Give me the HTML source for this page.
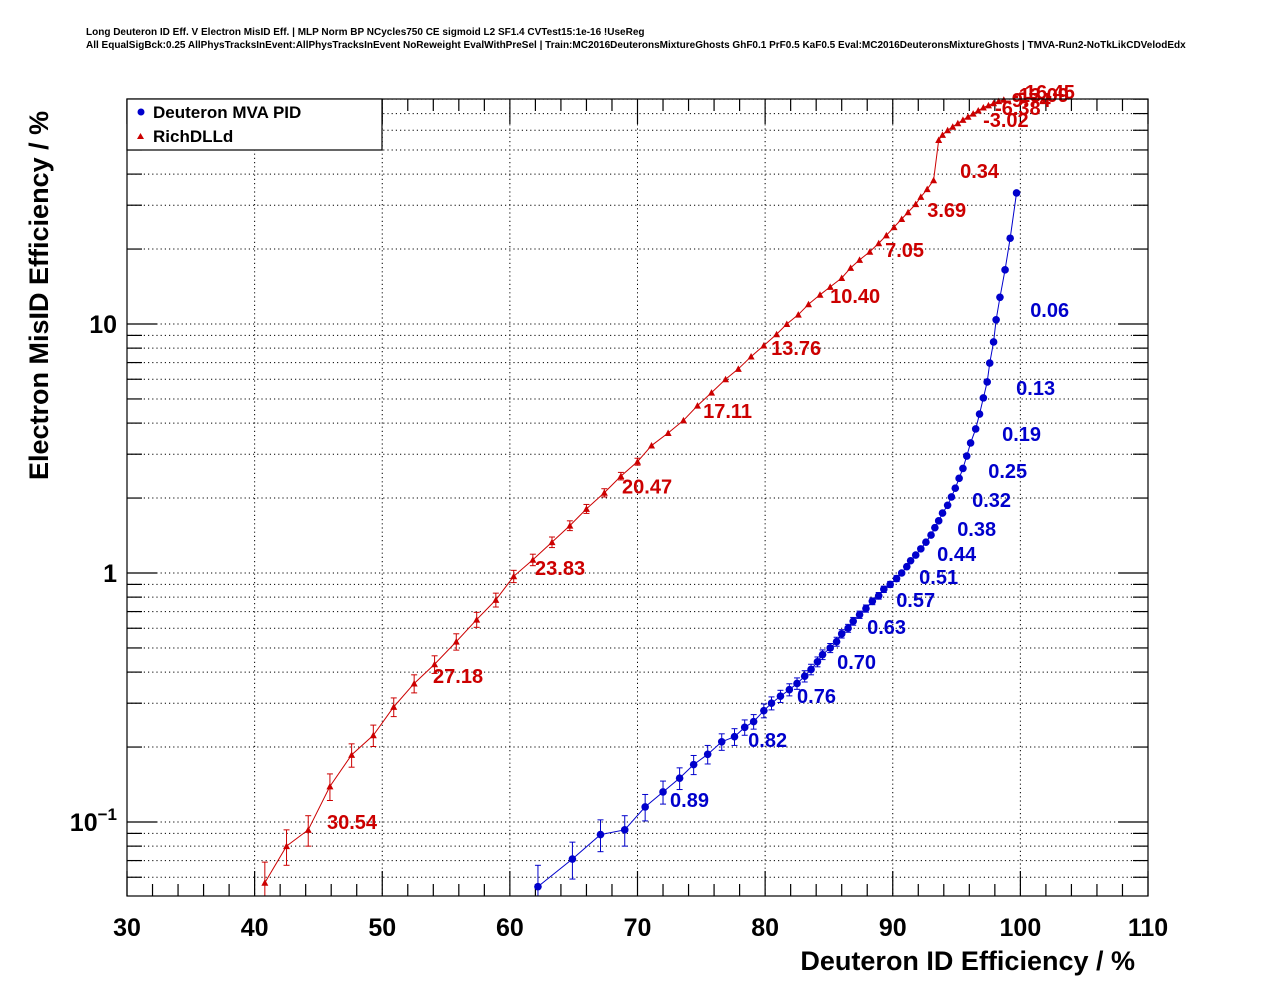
<!DOCTYPE html>
<html><head><meta charset="utf-8">
<style>
html,body{margin:0;padding:0;background:#fff;}
svg{display:block;font-family:"Liberation Sans",sans-serif;}
</style></head>
<body>
<svg id="chart" width="1276" height="996" viewBox="0 0 1276 996" xmlns="http://www.w3.org/2000/svg">
<rect width="1276" height="996" fill="#fff"/>
<text x="86" y="35" font-size="10" font-weight="bold">Long Deuteron ID Eff. V Electron MisID Eff. | MLP Norm BP NCycles750 CE sigmoid L2 SF1.4 CVTest15:1e-16 !UseReg</text>
<text x="86" y="48" font-size="10" font-weight="bold">All EqualSigBck:0.25 AllPhysTracksInEvent:AllPhysTracksInEvent NoReweight EvalWithPreSel | Train:MC2016DeuteronsMixtureGhosts GhF0.1 PrF0.5 KaF0.5 Eval:MC2016DeuteronsMixtureGhosts | TMVA-Run2-NoTkLikCDVelodEdx</text>
<g id="grid"></g>
<g id="axes"></g>
<g id="series"></g>
<rect x="127" y="99" width="1021" height="797" fill="none" stroke="#000" stroke-width="1.2"/>
<g>
<rect x="127" y="99" width="255" height="51" fill="#fff" stroke="#000" stroke-width="1.2"/>
<circle cx="141" cy="112" r="3.5" fill="#0000cc"/>
<text x="153" y="118" font-size="17" font-weight="bold">Deuteron MVA PID</text>
<polygon points="137,139 144,139 140.5,133" fill="#cc0000"/>
<text x="153" y="142" font-size="17" font-weight="bold">RichDLLd</text>
</g>
<text x="1135" y="970" font-size="27" font-weight="bold" text-anchor="end">Deuteron ID Efficiency / %</text>
<text transform="translate(48,480) rotate(-90)" font-size="27" font-weight="bold">Electron MisID Efficiency / %</text>
</svg>
<script>
const xTicks=[30,40,50,60,70,80,90,100,110];
const yMajors=[0.1,1,10];
const blueX=[62.2,64.9,67.1,69.0,70.6,72.0,73.3,74.4,75.5,76.6,77.6,78.4,79.1,79.9,80.5,81.2,81.9,82.5,83.1,83.6,84.1,84.5,85.1,85.6,86.0,86.5,86.9,87.4,87.9,88.4,88.9,89.3,89.8,90.3,90.7,91.1,91.4,91.8,92.2,92.6,93.0,93.3,93.6,93.9,94.3,94.6,94.9,95.2,95.5,95.8,96.1,96.5,96.8,97.1,97.4,97.6,97.9,98.1,98.4,98.8,99.2,99.7];
const blueY=[0.055,0.071,0.089,0.093,0.115,0.132,0.15,0.17,0.187,0.21,0.22,0.24,0.253,0.28,0.30,0.32,0.34,0.36,0.385,0.41,0.44,0.47,0.50,0.53,0.57,0.60,0.64,0.68,0.72,0.77,0.81,0.86,0.90,0.95,1.0,1.06,1.12,1.18,1.25,1.33,1.42,1.52,1.62,1.74,1.87,2.02,2.19,2.4,2.63,2.95,3.33,3.79,4.35,5.05,5.85,6.97,8.47,10.4,12.8,16.5,22.1,33.6];
const blueErr=[0.012,0.012,0.013,0.013,0.014,0.014,0.015,0.015,0.016,0.016,0.017,0.017,0.017,0.018,0.018,0.018,0.019,0.019,0.02,0.02,0.02,0.021,0.021,0.022,0.022,0.022,0.023,0.023,0.024,0.024,0.025,0.025,0.025,0.026];
const redX=[40.8,42.5,44.2,45.9,47.6,49.3,50.9,52.5,54.1,55.8,57.4,58.9,60.3,61.8,63.3,64.7,66.0,67.4,68.7,70.0,71.1,72.4,73.6,74.7,75.8,76.9,77.9,78.9,79.9,80.9,81.7,82.6,83.4,84.3,85.1,86.0,86.7,87.4,88.2,88.9,89.5,90.1,90.7,91.2,91.8,92.2,92.7,93.2,93.6,93.9,94.3,94.7,95.1,95.5,95.9,96.3,96.7,97.1,97.5,97.9,98.3,98.7];
const redY=[0.057,0.080,0.093,0.139,0.186,0.223,0.29,0.36,0.43,0.53,0.65,0.78,0.97,1.13,1.33,1.55,1.81,2.1,2.45,2.8,3.25,3.65,4.1,4.7,5.3,6.0,6.6,7.4,8.2,9.1,10,10.9,12,13.1,14.1,15.3,16.8,18.1,19.5,21.1,22.7,24.5,26.4,28.1,30.3,32.4,34.8,37.8,54.8,57.5,60,62,64,66,68,70,72,74,75.5,77,78.5,79.5];
const redErr=[0.012,0.013,0.013,0.017,0.02,0.022,0.025,0.03,0.035,0.04,0.045,0.05,0.055,0.06,0.065,0.07,0.075,0.08,0.085,0.09];
const blueLabels=["0.89","0.82","0.76","0.70","0.63","0.57","0.51","0.44","0.38","0.32","0.25","0.19","0.13","0.06"];
const blueLabX=[72.55,78.67,82.5,85.64,87.99,90.27,92.07,93.48,95.05,96.22,97.48,98.57,99.67,100.77];
const blueLabY=[0.1225,0.2134,0.321,0.44,0.607,0.78,0.964,1.19,1.50,1.96,2.57,3.61,5.53,11.4];
const redLabels=["30.54","27.18","23.83","20.47","17.11","13.76","10.40","7.05","3.69","0.34","-3.02","-6.38","-9.74","-13.09","-16.45"];
const redLabX=[45.67,53.98,61.97,68.79,75.14,80.47,85.09,89.40,92.70,95.28,97.08,98.02,98.8,99.36,99.83];
const redLabY=[0.1,0.386,1.047,2.23,4.48,8.01,12.95,19.8,28.7,41.1,65.9,73.6,79.4,83.2,85.5];

const NS="http://www.w3.org/2000/svg";
const L=127,R=1148,T=99,B=896,xMin=30,xMax=110;
const yAt10=324,dec=249;
function X(v){return L+(v-xMin)/(xMax-xMin)*(R-L);}
function Y(v){return yAt10-(Math.log10(v)-1)*dec;}
function mk(tag,attrs,parent){const e=document.createElementNS(NS,tag);for(const k in attrs)e.setAttribute(k,attrs[k]);parent.appendChild(e);return e;}
const grid=document.getElementById('grid'),axes=document.getElementById('axes'),ser=document.getElementById('series');
for(let d=-2;d<=1;d++){for(let m=1;m<=9;m++){const v=m*Math.pow(10,d);const y=Y(v);if(y<T||y>B)continue;
 const g=mk('line',{x1:L,x2:R,y1:y,y2:y,stroke:'#000','stroke-width':1,'stroke-dasharray':'1.2,3'},grid);
 
 
 const len=m===1?30:15;
 mk('line',{x1:L,x2:L+len,y1:y,y2:y,stroke:'#000','stroke-width':1.2},axes);
 mk('line',{x1:R,x2:R-len,y1:y,y2:y,stroke:'#000','stroke-width':1.2},axes);
}}
yMajors.forEach(v=>{const y=Y(v);
 const t=mk('text',{x:117,y:y+9,'font-size':25,'font-weight':'bold','text-anchor':'end'},axes);
 
 
 if(v===0.1){t.textContent='10';const s=mk('tspan',{dy:-11,'font-size':17},t);s.textContent='\u22121';}
 else t.textContent=String(v);
});
for(let v=xMin;v<=xMax;v+=2){const x=X(v);const maj=v%10===0;
 mk('line',{x1:x,x2:x,y1:B,y2:B-(maj?25:12),stroke:'#000','stroke-width':1.2},axes);
 mk('line',{x1:x,x2:x,y1:T,y2:T+(maj?25:12),stroke:'#000','stroke-width':1.2},axes);
}
xTicks.forEach(v=>{const x=X(v);
 if(v>xMin&&v<xMax){const g=mk('line',{x1:x,x2:x,y1:T,y2:B,stroke:'#000','stroke-width':1,'stroke-dasharray':'1.2,3'},grid);
 
 }
 const t=mk('text',{x:x,y:936,'font-size':25,'font-weight':'bold','text-anchor':'middle'},axes);
 
 
 t.textContent=String(v);
});
function clipY(y){return Math.max(T,Math.min(B,y));}
function drawSeries(xs,ys,errs,color,tri,name){
 const pts=xs.map((x,i)=>X(x)+','+Y(ys[i])).join(' ');
 const pl=mk('polyline',{points:pts,fill:'none',stroke:color,'stroke-width':1},ser);
 
 
 xs.forEach((xv,i)=>{const x=X(xv),y=Y(ys[i]);
  if(errs[i]){const y1=clipY(Y(ys[i]+errs[i])),y2=clipY(Y(Math.max(ys[i]-errs[i],1e-4)));
   mk('line',{x1:x,x2:x,y1:y1,y2:y2,stroke:color,'stroke-width':1},ser);
   mk('line',{x1:x-3,x2:x+3,y1:y1,y2:y1,stroke:color,'stroke-width':1},ser);
   if(y2<B)mk('line',{x1:x-3,x2:x+3,y1:y2,y2:y2,stroke:color,'stroke-width':1},ser);}
  let m;
  if(tri)m=mk('polygon',{points:`${x-3.5},${y+3} ${x+3.5},${y+3} ${x},${y-3.5}`,fill:color},ser);
  else m=mk('circle',{cx:x,cy:y,r:3.8,fill:color},ser);
  
  
 });
}
drawSeries(blueX,blueY,blueErr,'#0000cc',false,'mva');
drawSeries(redX,redY,redErr,'#cc0000',true,'rich');
function labels(txt,xs,ys,color,name){txt.forEach((s,i)=>{
 const t=mk('text',{x:X(xs[i]),y:Y(ys[i])+7,'font-size':20,'font-weight':'bold',fill:color},ser);
 
 
 t.textContent=s;});}
labels(blueLabels,blueLabX,blueLabY,'#0000cc','mva');
labels(redLabels,redLabX,redLabY,'#cc0000','rich');
</script>
</body></html>
